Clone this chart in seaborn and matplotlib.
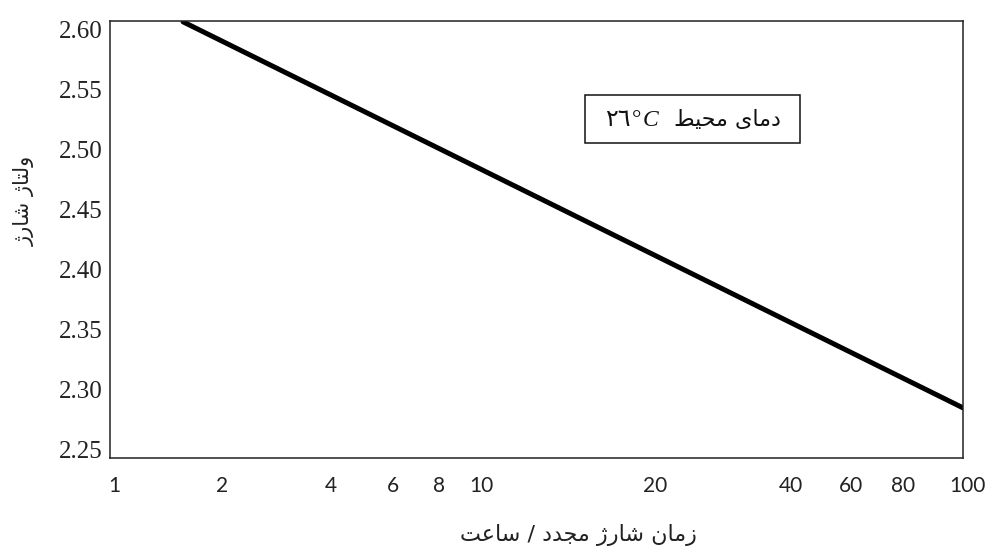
import numpy as np
import pandas as pd
import matplotlib
matplotlib.use("Agg")
import matplotlib.pyplot as plt
import matplotlib.transforms as mtransforms
from matplotlib.offsetbox import TextArea, HPacker, AnnotationBbox, DrawingArea
from matplotlib.patches import Rectangle
import seaborn as sns

# Charging voltage versus recharge time (straight-line characteristic)
charge_hours = [1.68, 100]
charge_voltage = [2.606, 2.285]

x_ticks = [1, 2, 4, 6, 8, 10, 20, 40, 60, 80, 100]
x_tick_labels = [str(v) for v in x_ticks]
y_ticks = [2.25, 2.30, 2.35, 2.40, 2.45, 2.50, 2.55, 2.60]
y_tick_labels = [f"{v:.2f}" for v in y_ticks]

x_label = "زمان شارژ مجدد / ساعت"
y_label = "ولتاژ شارژ"
ambient_label = "دمای محیط"
ambient_temp = "٢٦"

# Relative spacing of the hour ticks along the time axis (0 = left, 1 = right)
x_axis_stops = [0.0, 0.126, 0.254, 0.326, 0.381, 0.430, 0.634, 0.793, 0.863, 0.924, 1.0]


def hours_to_axis(h):
    return np.interp(h, x_ticks, x_axis_stops)


def axis_to_hours(f):
    return np.interp(f, x_axis_stops, x_ticks)


# Minimal Arabic/Persian shaping: contextual presentation forms + visual order
_FORMS = {  # isolated, final, initial, medial
    "ا": ("\ufe8d", "\ufe8e", None, None),
    "د": ("\ufea9", "\ufeaa", None, None),
    "ر": ("\ufead", "\ufeae", None, None),
    "ز": ("\ufeaf", "\ufeb0", None, None),
    "ژ": ("\ufb8a", "\ufb8b", None, None),
    "و": ("\ufeed", "\ufeee", None, None),
    "ت": ("\ufe95", "\ufe96", "\ufe97", "\ufe98"),
    "ج": ("\ufe9d", "\ufe9e", "\ufe9f", "\ufea0"),
    "ح": ("\ufea1", "\ufea2", "\ufea3", "\ufea4"),
    "س": ("\ufeb1", "\ufeb2", "\ufeb3", "\ufeb4"),
    "ش": ("\ufeb5", "\ufeb6", "\ufeb7", "\ufeb8"),
    "ط": ("\ufec1", "\ufec2", "\ufec3", "\ufec4"),
    "ع": ("\ufec9", "\ufeca", "\ufecb", "\ufecc"),
    "ل": ("\ufedd", "\ufede", "\ufedf", "\ufee0"),
    "م": ("\ufee1", "\ufee2", "\ufee3", "\ufee4"),
    "ن": ("\ufee5", "\ufee6", "\ufee7", "\ufee8"),
    "ی": ("\ufbfc", "\ufbfd", "\ufbfe", "\ufbff"),
}


def shape_rtl(text):
    out = []
    n = len(text)
    for i, ch in enumerate(text):
        forms = _FORMS.get(ch)
        if forms is None:
            out.append(ch)
            continue
        prev = text[i - 1] if i > 0 else ""
        nxt = text[i + 1] if i + 1 < n else ""
        joins_prev = prev in _FORMS and _FORMS[prev][2] is not None
        joins_next = forms[2] is not None and nxt in _FORMS
        if joins_prev and joins_next:
            out.append(forms[3])
        elif joins_prev:
            out.append(forms[1])
        elif joins_next:
            out.append(forms[2])
        else:
            out.append(forms[0])
    return "".join(reversed(out))


df = pd.DataFrame({"hours": charge_hours, "voltage": charge_voltage})

sns.set_theme(style="white")
plt.rcParams["font.family"] = ["DejaVu Sans"]

W, H = 990, 552
fig = plt.figure(figsize=(W / 100, H / 100), dpi=100)
ax = fig.add_axes([110 / W, 1 - 458 / H, 853 / W, 437 / H])

sns.lineplot(data=df, x="hours", y="voltage", color="black", linewidth=3.6,
             solid_capstyle="round", ax=ax, legend=False)

ax.set_xscale("function", functions=(hours_to_axis, axis_to_hours))
ax.set_xlim(1, 100)
ax.set_ylim(2.2433, 2.6067)

ax.set_xticks(x_ticks)
ax.set_xticklabels(x_tick_labels, fontfamily="Lato", fontsize=15, color="#222222")
ax.set_yticks(y_ticks)
ax.set_yticklabels(y_tick_labels, fontfamily="Liberation Serif", fontsize=18, color="#222222")
ax.tick_params(axis="x", length=0, pad=13)
ax.tick_params(axis="y", length=0, pad=5)
ax.minorticks_off()

shift = mtransforms.ScaledTranslation(0.045, 0, fig.dpi_scale_trans)
for lbl in ax.get_xticklabels():
    lbl.set_transform(lbl.get_transform() + shift)

ax.set_xlabel("")
ax.set_ylabel("")
for sp in ax.spines.values():
    sp.set_color("#222222")
    sp.set_linewidth(1.1)
    sp.set_visible(True)

fig.text(578 / W, 1 - 535 / H, shape_rtl(x_label), ha="center", va="center",
         fontsize=16, color="#222222", family="DejaVu Sans")
fig.text(24 / W, 1 - 201 / H, shape_rtl(y_label), ha="center", va="center",
         rotation=90, fontsize=15, color="#222222", family="DejaVu Sans")

# Ambient temperature note
ax.add_patch(Rectangle((0.557, 0.721), 0.252, 0.110, transform=ax.transAxes,
                       fill=False, edgecolor="#111111", linewidth=1.1))
parts = HPacker(children=[
    TextArea(ambient_temp, textprops=dict(family="DejaVu Sans", fontsize=17, color="#111111")),
    TextArea("°", textprops=dict(family="Liberation Serif", fontsize=17, color="#111111")),
    TextArea("C", textprops=dict(family="Liberation Serif", fontsize=17, style="italic", color="#111111")),
    DrawingArea(9, 1),
    TextArea(shape_rtl(ambient_label), textprops=dict(family="DejaVu Sans", fontsize=16, color="#111111")),
], align="baseline", pad=0, sep=1)
ax.add_artist(AnnotationBbox(parts, (0.683, 0.776), xycoords="axes fraction",
                             frameon=False, box_alignment=(0.5, 0.5)))

fig.savefig("out.png", dpi=100)
